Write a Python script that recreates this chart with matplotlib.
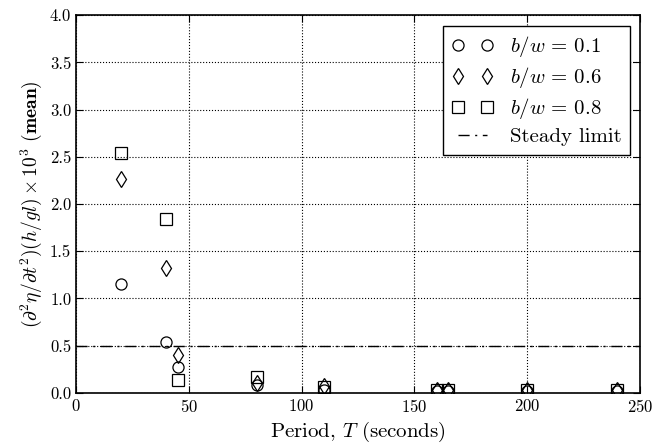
import matplotlib
matplotlib.use("Agg")
import matplotlib.pyplot as plt

plt.rcParams["font.family"] = "serif"
plt.rcParams["font.serif"] = ["cmr10", "DejaVu Serif"]
plt.rcParams["mathtext.fontset"] = "cm"
plt.rcParams["axes.unicode_minus"] = False
plt.rcParams["axes.formatter.use_mathtext"] = True

# period T (seconds)
periods = [20, 40, 45, 80, 110, 160, 165, 200, 240]

# mean acceleration, scaled x 10^3
bw_01 = [1.15, 0.54, 0.27, 0.08, 0.03, 0.02, 0.02, 0.02, 0.02]
bw_06 = [2.27, 1.32, 0.40, 0.10, 0.07, 0.03, 0.03, 0.03, 0.03]
bw_08 = [2.54, 1.84, 0.14, 0.17, 0.06, 0.03, 0.03, 0.03, 0.03]
steady_limit = 0.5

fig = plt.figure(figsize=(6.67, 4.46), dpi=100)
ax = fig.add_subplot(111)
fig.subplots_adjust(left=0.114, right=0.9595, top=0.966, bottom=0.119)

mk = dict(linestyle="none", markerfacecolor="none", markeredgecolor="black",
          markeredgewidth=0.9, markersize=8)
ax.plot(periods, bw_01, marker="o", label=r"$b/w\,=\,0.1$", **mk)
ax.plot(periods, bw_06, marker="d", label=r"$b/w\,=\,0.6$", **mk)
ax.plot(periods, bw_08, marker="s", label=r"$b/w\,=\,0.8$", **mk)
ax.axhline(steady_limit, color="black", linewidth=1.0, dashes=(8, 4, 1.5, 4),
           label="Steady limit")

ax.set_xlim(0, 250)
ax.set_ylim(0, 4.0)
ax.set_xticks([0, 50, 100, 150, 200, 250])
ax.set_yticks([0.0, 0.5, 1.0, 1.5, 2.0, 2.5, 3.0, 3.5, 4.0])
ax.set_yticklabels(["0.0", "0.5", "1.0", "1.5", "2.0", "2.5", "3.0", "3.5", "4.0"])
ax.grid(True, color="black", linestyle=":", linewidth=0.8)
ax.tick_params(direction="in", top=True, right=True, labelsize=12, length=5)
for s in ax.spines.values():
    s.set_linewidth(1.2)

ax.set_xlabel(r"Period, $T$ (seconds)", fontsize=15)
ax.set_ylabel(r"$(\partial^2\eta/\partial t^2)(h/gl)\times 10^3$ $\mathbf{(mean)}$",
              fontsize=14)

leg = ax.legend(loc="upper right", numpoints=2, fontsize=15, fancybox=False,
                framealpha=1, edgecolor="black", borderaxespad=0.5,
                handlelength=2.0, labelspacing=0.3)
leg.get_frame().set_linewidth(1.0)

fig.savefig("out.png", dpi=100)
